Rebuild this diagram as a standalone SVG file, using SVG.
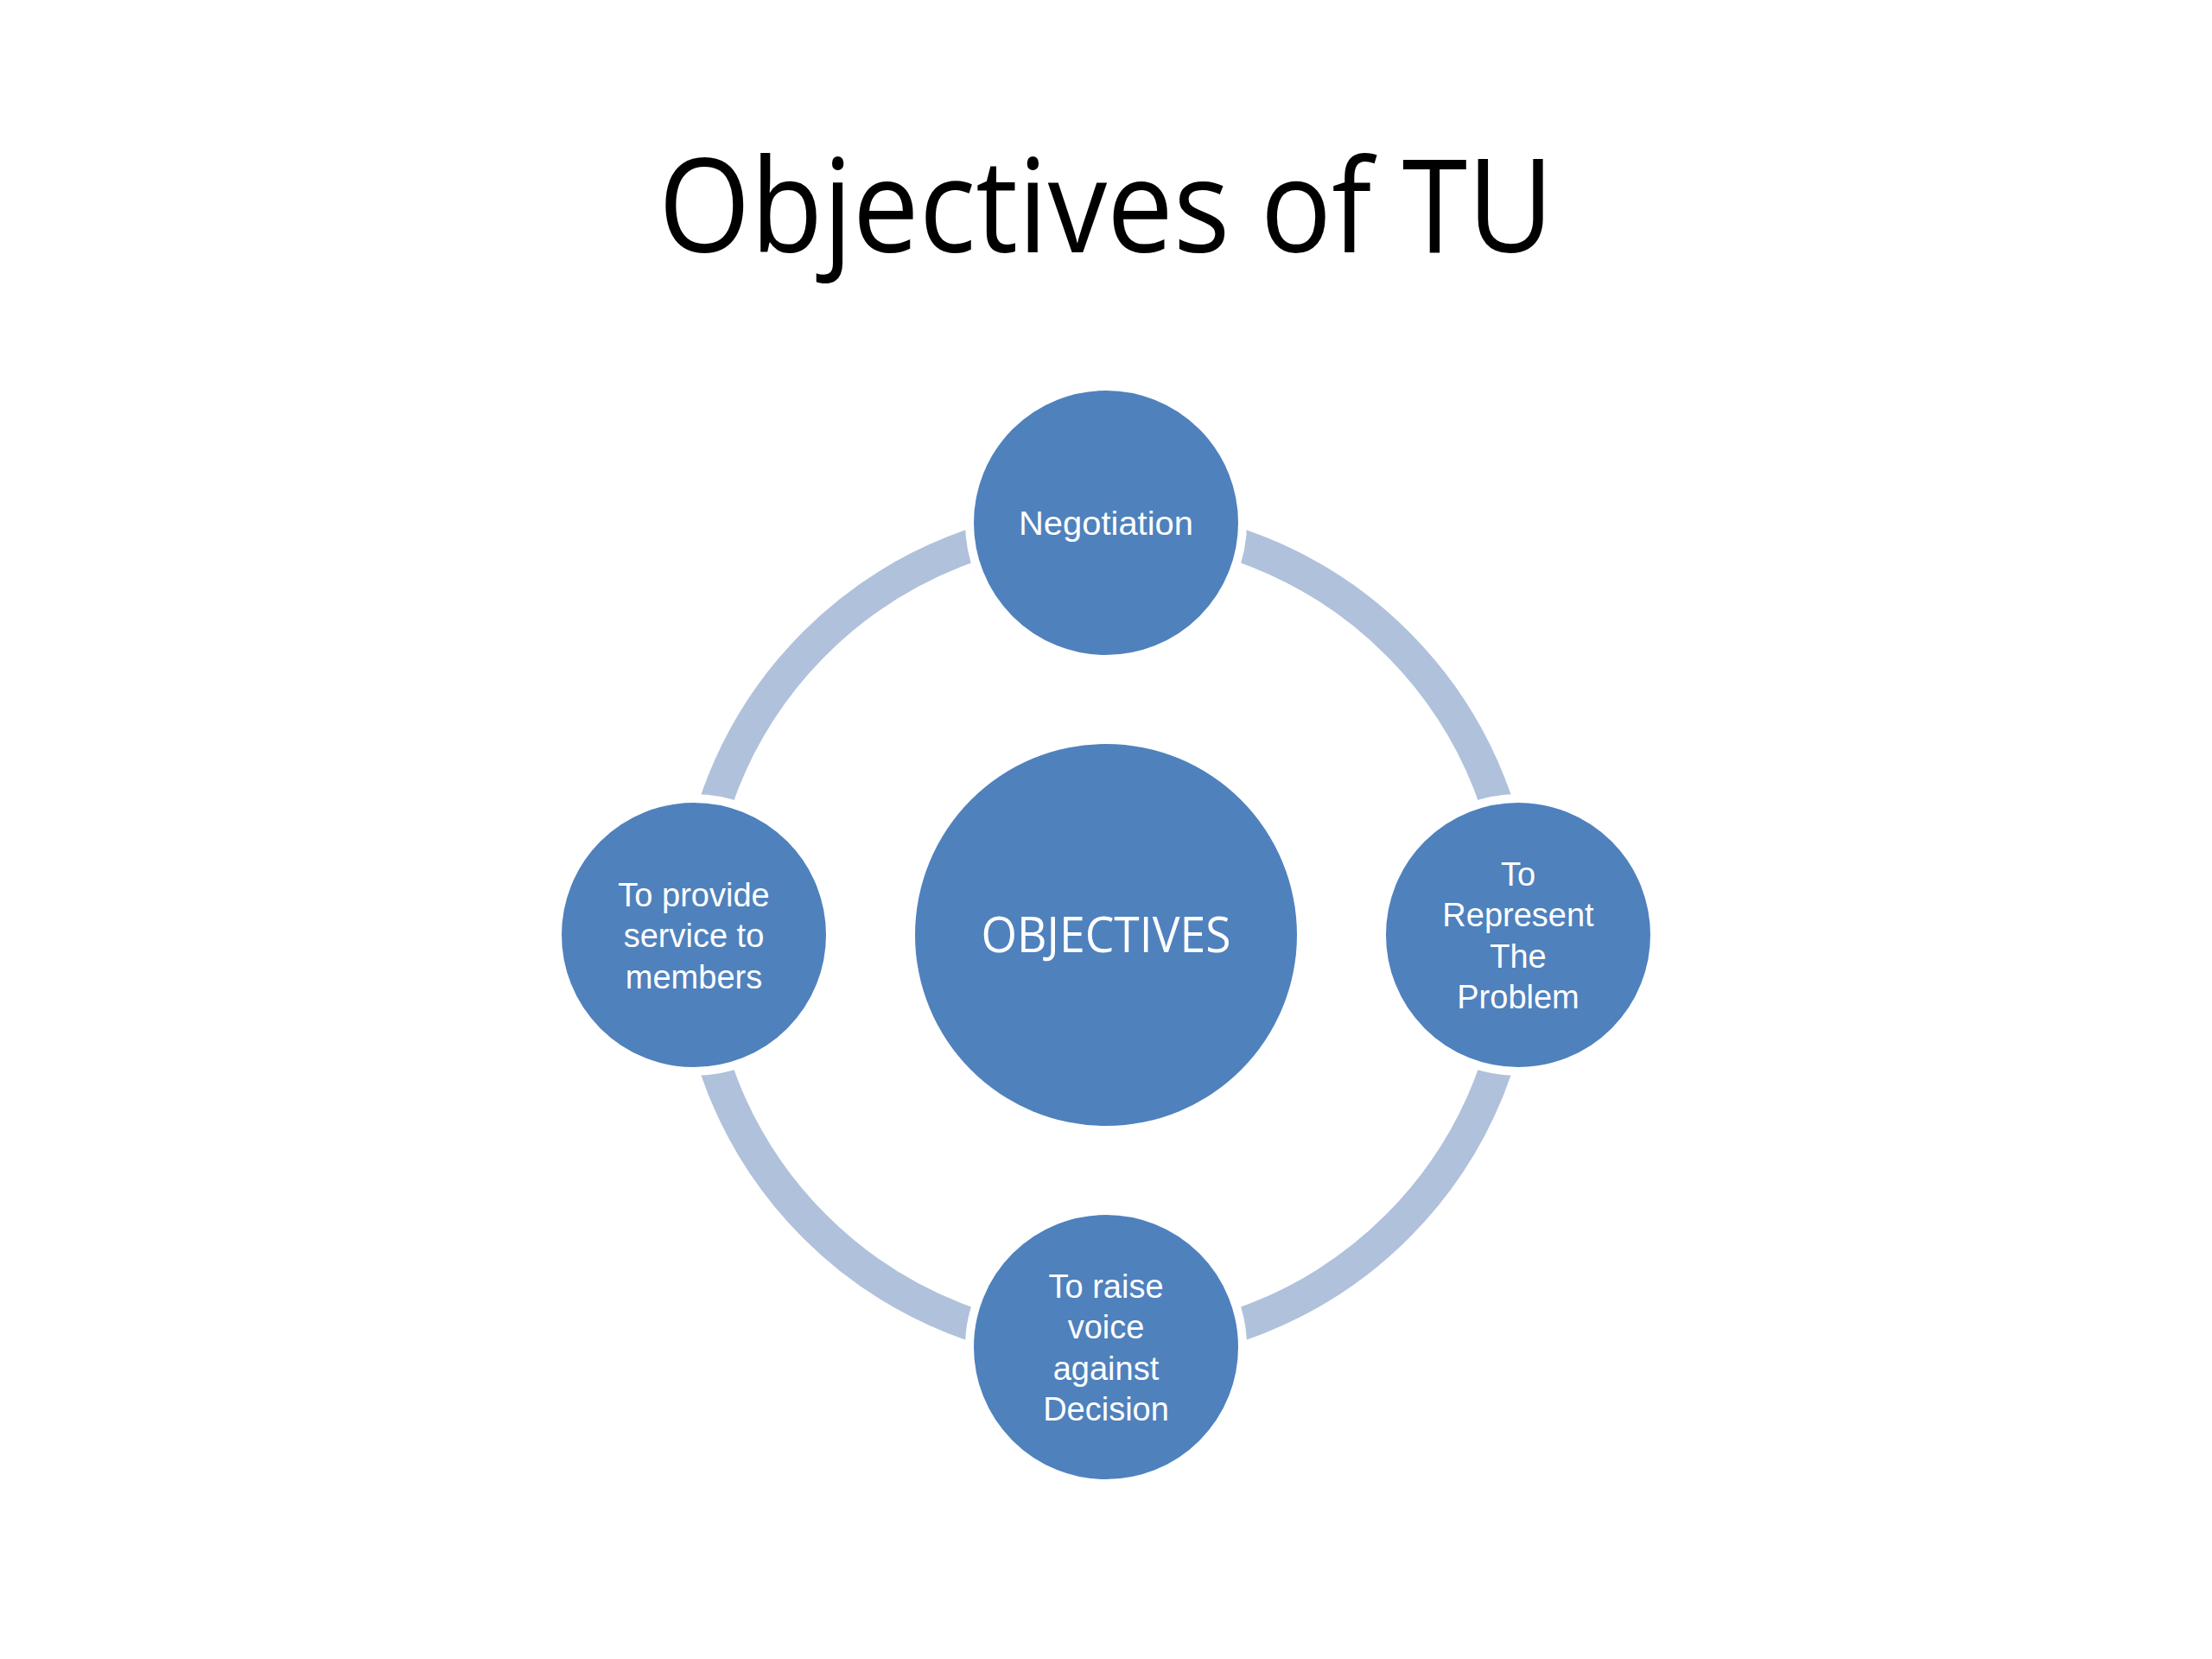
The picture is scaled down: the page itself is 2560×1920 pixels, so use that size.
<svg xmlns="http://www.w3.org/2000/svg" width="2560" height="1920" viewBox="0 0 2560 1920">
<style>
.node{fill:#4F81BD;stroke:#FFFFFF;stroke-width:10}
.ring{fill:none;stroke:#B0C1DC;stroke-width:38}
.lbl{font-family:"Liberation Sans","Open Sans",sans-serif;fill:#FFFFFF;text-anchor:middle;font-size:38px}
.title{font-family:"Open Sans","Noto Sans","Liberation Sans",sans-serif;fill:#000000;text-anchor:middle;font-size:151px}
</style>
<rect x="0" y="0" width="2560" height="1920" fill="#FFFFFF"/>
<text class="title" x="1280" y="292" textLength="1036" lengthAdjust="spacingAndGlyphs">Objectives of TU</text>
<g id="connectors">
<circle class="ring" cx="1280" cy="1082" r="477"/>
</g>
<g id="node-center">
<circle class="node" cx="1280" cy="1082" r="221" style="stroke:none"/>
<text x="1280" y="1102" style="font-family:'Open Sans','Liberation Sans',sans-serif;fill:#FFFFFF;text-anchor:middle;font-size:56px" textLength="289" lengthAdjust="spacingAndGlyphs">OBJECTIVES</text>
</g>
<g id="node-negotiation">
<circle class="node" cx="1280" cy="605" r="158"/>
<text class="lbl" x="1280" y="619" textLength="202" lengthAdjust="spacingAndGlyphs">Negotiation</text>
</g>
<g id="node-represent">
<circle class="node" cx="1757" cy="1082" r="158"/>
<text class="lbl" x="1757" y="1025">To</text>
<text class="lbl" x="1757" y="1072">Represent</text>
<text class="lbl" x="1757" y="1120">The</text>
<text class="lbl" x="1757" y="1167">Problem</text>
</g>
<g id="node-raise">
<circle class="node" cx="1280" cy="1559" r="158"/>
<text class="lbl" x="1280" y="1502">To raise</text>
<text class="lbl" x="1280" y="1549">voice</text>
<text class="lbl" x="1280" y="1597">against</text>
<text class="lbl" x="1280" y="1644">Decision</text>
</g>
<g id="node-service">
<circle class="node" cx="803" cy="1082" r="158"/>
<text class="lbl" x="803" y="1049">To provide</text>
<text class="lbl" x="803" y="1096">service to</text>
<text class="lbl" x="803" y="1144">members</text>
</g>
</svg>
